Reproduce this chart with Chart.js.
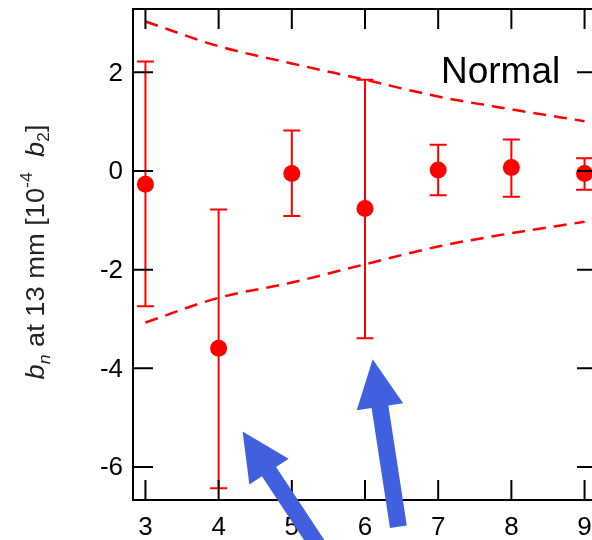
<!DOCTYPE html>
<html>
<head>
<meta charset="utf-8">
<script src="https://cdn.jsdelivr.net/npm/chart.js@4"></script>
<style>
  html, body { margin: 0; padding: 0; background: #fff; overflow: hidden; }
  #wrap { width: 600px; height: 540px; }
  canvas { display: block; }
</style>
</head>
<body>
<div id="wrap"><canvas id="chart" width="600" height="540"></canvas></div>
<script>
// multipole order n
const nValues = [3, 4, 5, 6, 7, 8, 9];
// measured b_n at 13 mm, units of 1e-4 b2
const bnMean = [-0.27, -3.59, -0.05, -0.76, 0.02, 0.07, -0.05];
const errLow = [-2.74, -6.43, -0.91, -3.39, -0.49, -0.52, -0.38];
const errHigh = [2.22, -0.78, 0.82, 1.85, 0.53, 0.64, 0.26];
// tolerance envelope (dashed)
const envUpper = [3.03, 2.53, 2.18, 1.85, 1.51, 1.25, 1.01];
const envLower = [-3.07, -2.57, -2.26, -1.89, -1.53, -1.26, -1.03];

const xTicks = [3, 4, 5, 6, 7, 8, 9];
const yTicks = [2, 0, -2, -4, -6];

const label = 'Normal';
// arrow annotations, in data units (tip, tail)
const arrows = [
    { tip: [4.327, -5.28], tail: [5.48, -7.87] },
    { tip: [6.105, -3.817], tail: [6.456, -7.21] }
];

const RED = '#ff0000';
const BLUE = 'rgb(64, 96, 224)';
const FONT = "'Liberation Sans', Arial, sans-serif";

function pts(ys) {
    return nValues.map((n, i) => ({ x: n, y: ys[i] }));
}

const errorBars = {
    id: 'errorBars',
    beforeDatasetsDraw(chart) {
        const { ctx, scales: { x, y } } = chart;
        ctx.save();
        ctx.strokeStyle = RED;
        ctx.lineWidth = 2;
        nValues.forEach((n, i) => {
            const px = x.getPixelForValue(n);
            const lo = y.getPixelForValue(errLow[i]);
            const hi = y.getPixelForValue(errHigh[i]);
            ctx.beginPath();
            ctx.moveTo(px, lo); ctx.lineTo(px, hi);
            ctx.moveTo(px - 8.5, lo); ctx.lineTo(px + 8.5, lo);
            ctx.moveTo(px - 8.5, hi); ctx.lineTo(px + 8.5, hi);
            ctx.stroke();
        });
        ctx.restore();
    }
};

// box frame, inward ticks on all four sides, tick labels
const frame = {
    id: 'frame',
    afterDatasetsDraw(chart) {
        const { ctx, chartArea: a, scales: { x, y } } = chart;
        ctx.save();
        ctx.strokeStyle = '#000';
        ctx.lineWidth = 2;
        ctx.strokeRect(a.left, a.top, a.right - a.left, a.bottom - a.top);
        ctx.beginPath();
        xTicks.forEach(v => {
            const px = x.getPixelForValue(v);
            ctx.moveTo(px, a.bottom); ctx.lineTo(px, a.bottom - 20);
            ctx.moveTo(px, a.top); ctx.lineTo(px, a.top + 20);
        });
        yTicks.forEach(v => {
            const py = y.getPixelForValue(v);
            ctx.moveTo(a.left, py); ctx.lineTo(a.left + 20, py);
            ctx.moveTo(a.right, py); ctx.lineTo(a.right - 20, py);
        });
        ctx.stroke();

        ctx.fillStyle = '#000';
        ctx.font = '26px ' + FONT;
        ctx.textAlign = 'center';
        ctx.textBaseline = 'alphabetic';
        xTicks.forEach(v => ctx.fillText(String(v), x.getPixelForValue(v), a.bottom + 35));
        ctx.textAlign = 'right';
        ctx.textBaseline = 'middle';
        yTicks.forEach(v => ctx.fillText(String(v), a.left - 10, y.getPixelForValue(v) + 1));

        // panel label
        ctx.font = '37px ' + FONT;
        ctx.textAlign = 'right';
        ctx.textBaseline = 'alphabetic';
        ctx.fillText(label, x.getPixelForValue(8.667), y.getPixelForValue(1.786));
        ctx.restore();
    }
};

const yTitle = {
    id: 'yTitle',
    afterDraw(chart) {
        const ctx = chart.ctx;
        const fs = 25;
        const parts = [
            { t: 'b', style: 'italic', size: fs, dy: 0 },
            { t: 'n', style: 'italic', size: fs * 0.65, dy: 6 },
            { t: ' at 13 mm [10', style: 'normal', size: fs, dy: 0 },
            { t: '-4', style: 'normal', size: fs * 0.65, dy: -12 },
            { t: '  ', style: 'normal', size: fs, dy: 0 },
            { t: 'b', style: 'italic', size: fs, dy: 0 },
            { t: '2', style: 'normal', size: fs * 0.65, dy: 5 },
            { t: ']', style: 'normal', size: fs, dy: 0 }
        ];
        ctx.save();
        let total = 0;
        parts.forEach(p => {
            ctx.font = p.style + ' ' + p.size + 'px ' + FONT;
            p.w = ctx.measureText(p.t).width;
            total += p.w;
        });
        // the reference title runs about 255px along the axis
        const stretch = 255 / total;
        ctx.translate(44, 252);
        ctx.rotate(-Math.PI / 2);
        ctx.scale(stretch, 1);
        ctx.fillStyle = '#222';
        ctx.textBaseline = 'alphabetic';
        ctx.textAlign = 'left';
        let cx = -total / 2;
        parts.forEach(p => {
            ctx.font = p.style + ' ' + p.size + 'px ' + FONT;
            ctx.fillText(p.t, cx, p.dy);
            cx += p.w;
        });
        ctx.restore();
    }
};

const arrowLayer = {
    id: 'arrowLayer',
    afterDraw(chart) {
        const { ctx, scales: { x, y } } = chart;
        ctx.save();
        ctx.fillStyle = BLUE;
        arrows.forEach(a => {
            const tx = x.getPixelForValue(a.tip[0]), ty = y.getPixelForValue(a.tip[1]);
            const sx = x.getPixelForValue(a.tail[0]), sy = y.getPixelForValue(a.tail[1]);
            const len = Math.hypot(tx - sx, ty - sy);
            const dx = (tx - sx) / len, dy = (ty - sy) / len;
            const px = -dy, py = dx;
            const headLen = 48, headHalf = 23.5, shaftHalf = 8.5;
            const bx = tx - dx * headLen, by = ty - dy * headLen;
            ctx.beginPath();
            ctx.moveTo(sx + px * shaftHalf, sy + py * shaftHalf);
            ctx.lineTo(bx + px * shaftHalf, by + py * shaftHalf);
            ctx.lineTo(bx + px * headHalf, by + py * headHalf);
            ctx.lineTo(tx, ty);
            ctx.lineTo(bx - px * headHalf, by - py * headHalf);
            ctx.lineTo(bx - px * shaftHalf, by - py * shaftHalf);
            ctx.lineTo(sx - px * shaftHalf, sy - py * shaftHalf);
            ctx.closePath();
            ctx.fill();
        });
        ctx.restore();
    }
};

const ctx = document.getElementById('chart').getContext('2d');
new Chart(ctx, {
    type: 'scatter',
    data: {
        datasets: [
            {
                data: pts(envUpper), showLine: true, borderColor: RED, borderWidth: 2.5,
                borderDash: [13, 8], pointRadius: 0, fill: false, cubicInterpolationMode: 'monotone'
            },
            {
                data: pts(envLower), showLine: true, borderColor: RED, borderWidth: 2.5,
                borderDash: [13, 8], pointRadius: 0, fill: false, cubicInterpolationMode: 'monotone'
            },
            {
                data: pts(bnMean), showLine: false, pointRadius: 8.5,
                pointBackgroundColor: RED, pointBorderColor: RED, pointBorderWidth: 0
            }
        ]
    },
    options: {
        responsive: false,
        animation: false,
        layout: { autoPadding: false, padding: { top: 9, right: 3, left: 0, bottom: 0 } },
        plugins: { legend: { display: false }, tooltip: { enabled: false } },
        scales: {
            x: {
                type: 'linear', min: 2.83, max: 9.17,
                grid: { display: false, drawTicks: false },
                border: { display: false },
                ticks: { display: false },
                afterBuildTicks: s => { s.ticks = xTicks.map(v => ({ value: v })); },
                afterFit: s => { s.height = 40; s.paddingLeft = 0; s.paddingRight = 0; }
            },
            y: {
                type: 'linear', min: -6.668, max: 3.284,
                grid: { display: false, drawTicks: false },
                border: { display: false },
                ticks: { display: false },
                afterBuildTicks: s => { s.ticks = yTicks.map(v => ({ value: v })); },
                afterFit: s => { s.width = 133; s.paddingTop = 0; s.paddingBottom = 0; }
            }
        }
    },
    plugins: [errorBars, frame, yTitle, arrowLayer]
});
</script>
</body>
</html>
